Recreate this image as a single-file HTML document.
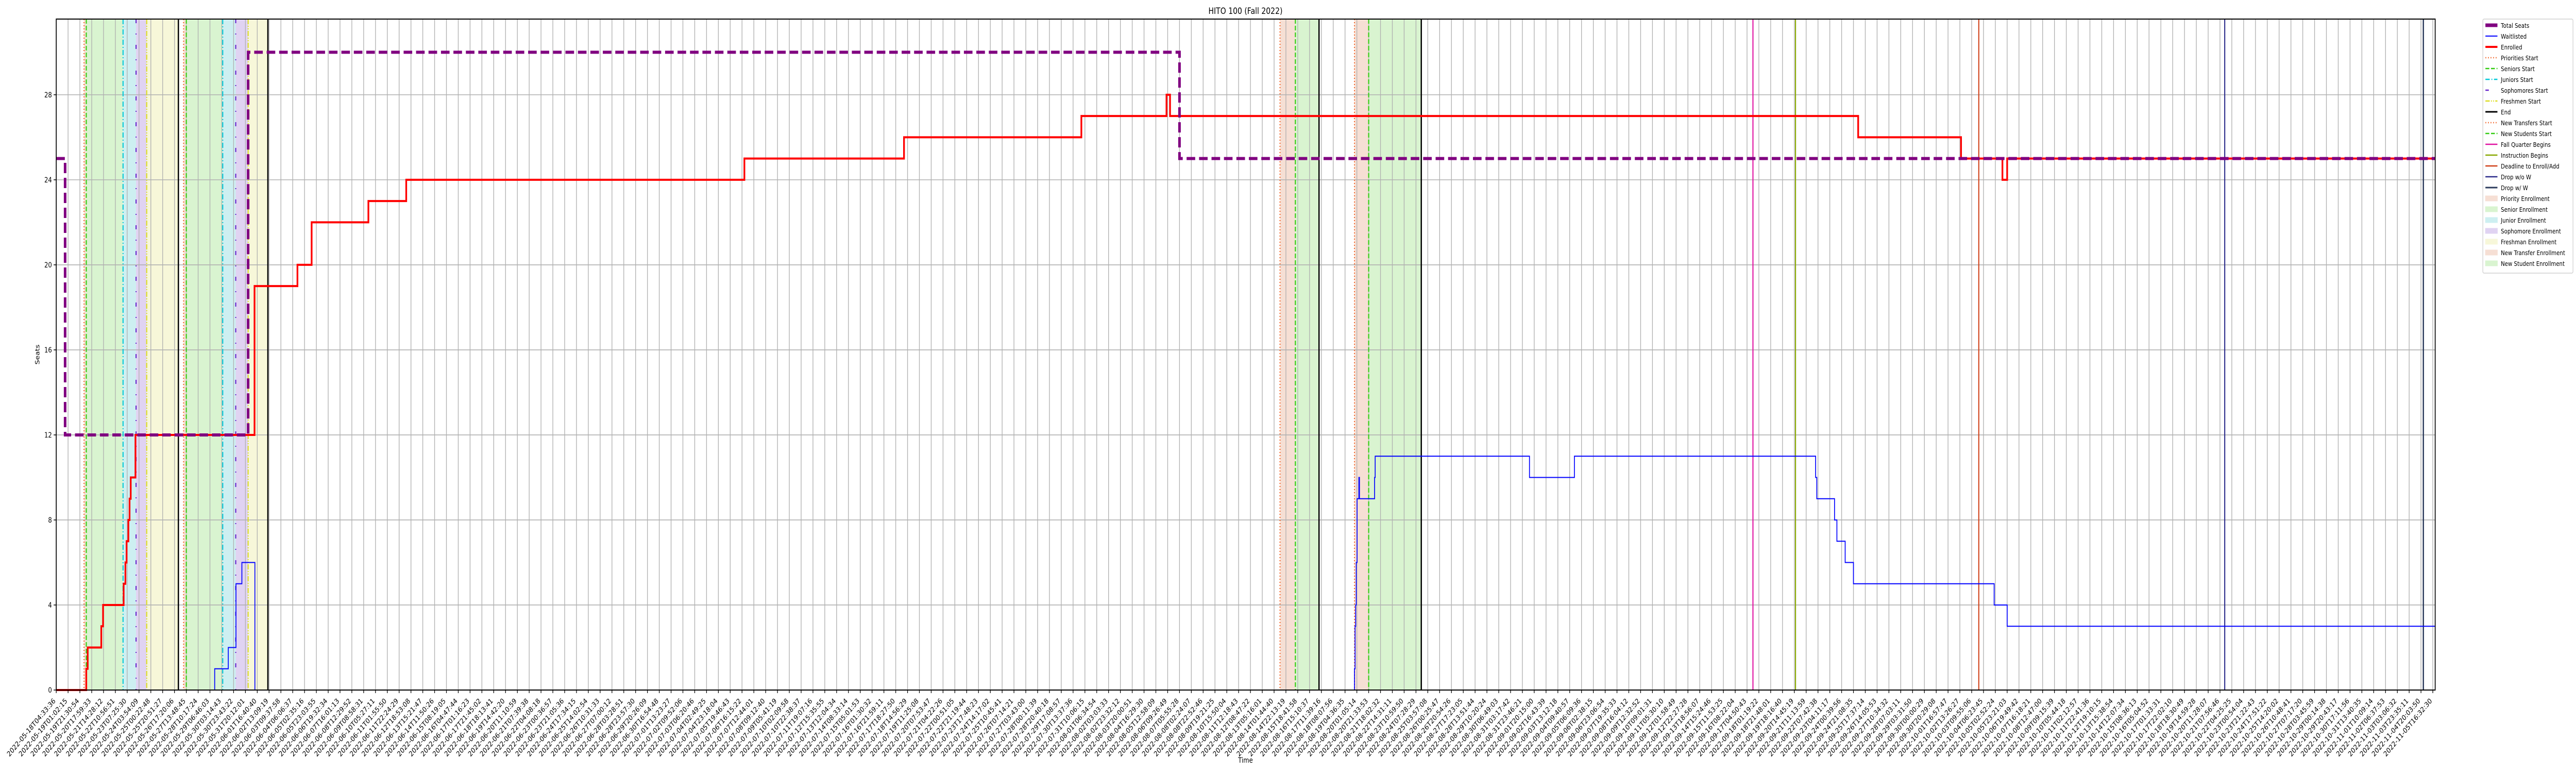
<!DOCTYPE html>
<html><head><meta charset="utf-8">
<style>
html,body{margin:0;padding:0;background:#fff;width:100%;height:100%;overflow:hidden;}
svg{display:block;width:100vw;height:100vh;overflow:hidden;font-family:"DejaVu Sans","Liberation Sans",sans-serif;}
</style></head>
<body>
<svg id="chart" viewBox="0 0 6000 1500" preserveAspectRatio="none" xmlns="http://www.w3.org/2000/svg">
<rect x="0" y="0" width="6000" height="1500" fill="#fff"/>
<g id="shading"></g>
<g id="grid"></g>
<g id="events"></g>
<g id="series"></g>
<g id="axes"></g>
<text x="2901" y="27" font-size="16.8" text-anchor="middle">HITO 100 (Fall 2022)</text>
<text x="2901" y="1480" font-size="14" text-anchor="middle">Time</text>
<text x="0" y="0" font-size="14" text-anchor="middle" transform="translate(92,688) rotate(-90)">Seats</text>
<g id="legend"></g>
</svg>
<script>
// ---- data (x = sample index along the time axis) ----
const totalSeatsX = [0, 0.75, 16.23, 95.0];
const totalSeatsY = [25, 12, 30, 25];
const enrolledX = [0, 2.54, 2.66, 3.81, 3.96, 5.7, 5.85, 5.95, 6.1, 6.2, 6.3, 6.7, 16.77, 20.4, 21.6, 26.4, 29.6, 58.2, 71.7, 86.7, 93.9, 94.2, 152.4, 161.1, 164.6, 165.0];
const enrolledY = [0, 1, 2, 3, 4, 5, 6, 7, 8, 9, 10, 12, 19, 20, 22, 23, 24, 25, 26, 27, 28, 27, 26, 25, 24, 25];
const waitlistX = [0, 13.4, 14.55, 15.2, 15.7, 16.8, 109.8, 109.85, 109.9, 109.95, 110.02, 110.17, 110.22, 111.5, 111.55, 124.6, 128.4, 148.8, 148.9, 150.4, 150.6, 151.3, 152.0, 163.9, 165.0];
const waitlistY = [0, 1, 2, 5, 6, 0, 1, 3, 4, 6, 9, 10, 9, 10, 11, 10, 11, 10, 9, 8, 7, 6, 5, 4, 3];
const eventTypes = ["priority","senior","junior","soph","fresh","end","priority","senior","junior","soph","fresh","end","transfer","newstudent","end","transfer","newstudent","end","fall","instr","deadline","dropnow","dropw"];
const eventX = [2.35, 2.54, 5.65, 6.75, 7.65, 10.33, 10.77, 11.0, 14.08, 15.18, 16.23, 17.9, 103.5, 104.8, 106.8, 109.8, 111.0, 115.45, 143.5, 147.1, 162.6, 183.4, 200.2];
const yTicks = [0, 4, 8, 12, 16, 20, 24, 28];
const tickCount = 202;
const firstTickLabel = "2022-05-18T04:33:36";
const lastTickLabel = "2022-11-05T16:32:30";

// ---- axes ----
const L = 131, R = 5672, T = 37, B = 1339;
const XMAX = 201.2, YMAX = 31.56;
const xs = v => L + v * (R - L) / XMAX;
const ys = v => B - v * (B - T) / YMAX;
const NS = "http://www.w3.org/2000/svg";
function mk(tag, attrs, parent) {
  const e = document.createElementNS(NS, tag);
  for (const k in attrs) e.setAttribute(k, attrs[k]);
  parent.appendChild(e);
  return e;
}
const gShade = document.getElementById("shading");
const gGrid = document.getElementById("grid");
const gEv = document.getElementById("events");
const gSer = document.getElementById("series");
const gAx = document.getElementById("axes");
const gLeg = document.getElementById("legend");

const styles = {
  priority: {stroke: "#f2662a", w: 2.5, dash: "2 4", label: "Priorities Start"},
  senior: {stroke: "#33cc11", w: 2.5, dash: "9 4", label: "Seniors Start"},
  junior: {stroke: "#00c8d8", w: 2.5, dash: "10 4 2 4", label: "Juniors Start"},
  soph: {stroke: "#6622cc", w: 2.5, dash: "8 20 2 20", label: "Sophomores Start"},
  fresh: {stroke: "#dddd22", w: 2.5, dash: "10 3 2 3 2 3", label: "Freshmen Start"},
  end: {stroke: "#000000", w: 3, dash: "", label: "End"},
  transfer: {stroke: "#f2662a", w: 2.5, dash: "2 4", label: "New Transfers Start"},
  newstudent: {stroke: "#33cc11", w: 2.5, dash: "9 4", label: "New Students Start"},
  fall: {stroke: "#e010a0", w: 2.5, dash: "", label: "Fall Quarter Begins"},
  instr: {stroke: "#88a800", w: 2.5, dash: "", label: "Instruction Begins"},
  deadline: {stroke: "#d04018", w: 2.5, dash: "", label: "Deadline to Enroll/Add"},
  dropnow: {stroke: "#2a2a8a", w: 2.5, dash: "", label: "Drop w/o W"},
  dropw: {stroke: "#2c3c5c", w: 3, dash: "", label: "Drop w/ W"}
};
const shadeColor = {priority: "#f6dfd4", senior: "#d9f4d0", junior: "#cdeff1", soph: "#e0d3f2", fresh: "#f7f7d9", transfer: "#f6dfd4", newstudent: "#d9f4d0"};

for (let i = 0; i < eventTypes.length - 1; i++) {
  const t = eventTypes[i];
  if (!shadeColor[t]) continue;
  const x0 = xs(eventX[i]), x1 = xs(eventX[i + 1]);
  const r = mk("rect", {x: x0, y: T, width: x1 - x0, height: B - T, fill: shadeColor[t]}, gShade);
  
  
}

for (let i = 0; i < tickCount; i++) {
  const x = xs(i);
  const l = mk("line", {x1: x, x2: x, y1: T, y2: B, stroke: "#b0b0b0", "stroke-width": 1.6}, gGrid);
  
  
}
yTicks.forEach(v => {
  const y = ys(v);
  const l = mk("line", {x1: L, x2: R, y1: y, y2: y, stroke: "#b0b0b0", "stroke-width": 1.6}, gGrid);
  
  
});

eventX.forEach((ex, i) => {
  const s = styles[eventTypes[i]];
  const a = {x1: xs(ex), x2: xs(ex), y1: T, y2: B, stroke: s.stroke, "stroke-width": s.w};
  if (s.dash) a["stroke-dasharray"] = s.dash;
  const l = mk("line", a, gEv);
  
  
});

function stepPath(X, Y) {
  let d = "M" + xs(X[0]) + "," + ys(Y[0]);
  for (let i = 1; i < X.length; i++) {
    d += " L" + xs(X[i]) + "," + ys(Y[i - 1]) + " L" + xs(X[i]) + "," + ys(Y[i]);
  }
  d += " L" + xs(XMAX) + "," + ys(Y[Y.length - 1]);
  return d;
}
const pw = mk("path", {d: stepPath(waitlistX, waitlistY), fill: "none", stroke: "#0000ff", "stroke-width": 2}, gSer);


const pe = mk("path", {d: stepPath(enrolledX, enrolledY), fill: "none", stroke: "#ff0000", "stroke-width": 4}, gSer);


const pt = mk("path", {d: stepPath(totalSeatsX, totalSeatsY), fill: "none", stroke: "#800080", "stroke-width": 6, "stroke-dasharray": "20 9"}, gSer);



const fr = mk("rect", {x: L, y: T, width: R - L, height: B - T, fill: "none", stroke: "#000", "stroke-width": 2}, gAx);



yTicks.forEach(v => {
  const y = ys(v);
  const tk = mk("line", {x1: L - 6, x2: L, y1: y, y2: y, stroke: "#000", "stroke-width": 1.5}, gAx);
  
  
  const tx = mk("text", {x: L - 10, y: y + 5, "font-size": 14, "text-anchor": "end"}, gAx);
  tx.textContent = String(v);
  
  
});

const t0 = Date.parse(firstTickLabel + "Z"), t1 = Date.parse(lastTickLabel + "Z");
const tickLabels = [];
for (let i = 0; i < tickCount; i++) {
  tickLabels.push(new Date(t0 + (t1 - t0) * i / (tickCount - 1)).toISOString().slice(0, 19));
}
tickLabels[0] = firstTickLabel;
tickLabels[tickCount - 1] = lastTickLabel;
tickLabels.forEach((lab, i) => {
  const x = xs(i);
  const tk = mk("line", {x1: x, x2: x, y1: B, y2: B + 6, stroke: "#000", "stroke-width": 1.5}, gAx);
  
  
  const tx = mk("text", {x: 0, y: 0, "font-size": 14, "text-anchor": "end", transform: "translate(" + (x - 1) + "," + (B + 22) + ") rotate(-45)"}, gAx);
  tx.textContent = lab;
  
  
});

const legItems = [
  {label: "Total Seats", type: "line", stroke: "#800080", w: 7, dash: ""},
  {label: "Waitlisted", type: "line", stroke: "#0000ff", w: 2, dash: ""},
  {label: "Enrolled", type: "line", stroke: "#ff0000", w: 4, dash: ""}
];
["priority","senior","junior","soph","fresh","end","transfer","newstudent","fall","instr","deadline","dropnow","dropw"].forEach(k => {
  legItems.push({label: styles[k].label, type: "line", stroke: styles[k].stroke, w: styles[k].w, dash: styles[k].dash});
});
[["Priority Enrollment","#f6dfd4"],["Senior Enrollment","#d9f4d0"],["Junior Enrollment","#cdeff1"],["Sophomore Enrollment","#e0d3f2"],["Freshman Enrollment","#f7f7d9"],["New Transfer Enrollment","#f6dfd4"],["New Student Enrollment","#d9f4d0"]].forEach(p => {
  legItems.push({label: p[0], type: "patch", fill: p[1]});
});
const lb = mk("rect", {x: 5783, y: 37, width: 210, height: 21 * legItems.length + 10, fill: "#fff", stroke: "#d0d0d0", "stroke-width": 1.5, rx: 3}, gLeg);


legItems.forEach((it, i) => {
  const cy = 49 + 21 * i;
  let h;
  if (it.type === "line") {
    const a = {x1: 5789, x2: 5817, y1: cy, y2: cy, stroke: it.stroke, "stroke-width": it.w};
    if (it.dash) a["stroke-dasharray"] = it.dash;
    h = mk("line", a, gLeg);
  } else {
    h = mk("rect", {x: 5789, y: cy - 5, width: 28, height: 10, fill: it.fill, stroke: it.fill}, gLeg);
  }
  
  
  const tx = mk("text", {x: 5825, y: cy + 5, "font-size": 12.2}, gLeg);
  tx.textContent = it.label;
  
  
});
</script>
</body></html>
